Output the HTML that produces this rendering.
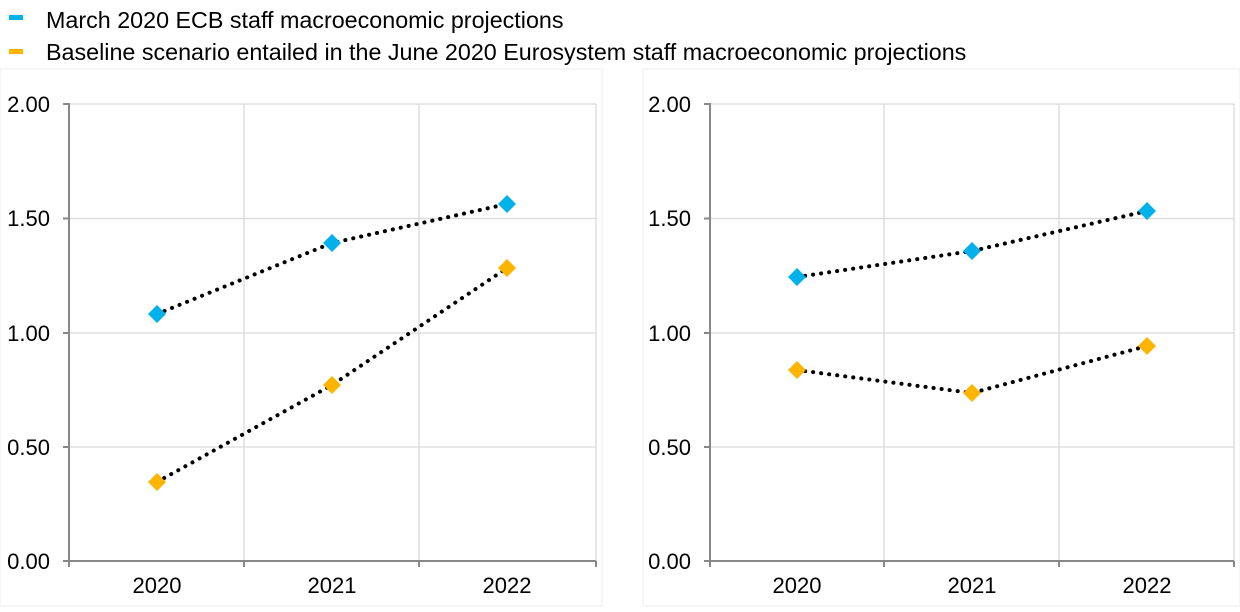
<!DOCTYPE html>
<html><head><meta charset="utf-8"><style>
html,body{margin:0;padding:0;background:#fff;}
svg text{font-family:"Liberation Sans",Arial,sans-serif;fill:#000;}
</style></head><body>
<svg width="1240" height="607" xmlns="http://www.w3.org/2000/svg">
<rect x="0" y="69" width="602" height="537" fill="none" stroke="#eee"/>
<rect x="643" y="69" width="597" height="537" fill="none" stroke="#eee"/>
<rect x="9" y="15" width="14" height="5" fill="#00b1ea"/>
<text x="46" y="28" font-size="23.3">March 2020 ECB staff macroeconomic projections</text>
<rect x="9" y="49" width="14" height="5" fill="#ffb400"/>
<text x="46" y="60" font-size="23.3">Baseline scenario entailed in the June 2020 Eurosystem staff macroeconomic projections</text>

<g>
<g stroke="#d9d9d9" stroke-width="1.3">
<line x1="69" y1="104" x2="596" y2="104"/><line x1="69" y1="218.5" x2="596" y2="218.5"/>
<line x1="69" y1="333" x2="596" y2="333"/><line x1="69" y1="447" x2="596" y2="447"/>
<line x1="244" y1="104" x2="244" y2="561"/><line x1="419" y1="104" x2="419" y2="561"/><line x1="596" y1="104" x2="596" y2="561"/>
</g>
<g stroke="#888" stroke-width="2">
<line x1="69" y1="103" x2="69" y2="567"/><line x1="63" y1="561" x2="596" y2="561"/>
<line x1="63" y1="104" x2="69" y2="104"/><line x1="63" y1="218.5" x2="69" y2="218.5"/><line x1="63" y1="333" x2="69" y2="333"/><line x1="63" y1="447" x2="69" y2="447"/>
<line x1="244" y1="561" x2="244" y2="567"/><line x1="419" y1="561" x2="419" y2="567"/><line x1="596" y1="561" x2="596" y2="567"/>
</g>
<g font-size="22" text-anchor="end">
<text x="50" y="112">2.00</text><text x="50" y="226">1.50</text><text x="50" y="341">1.00</text><text x="50" y="455">0.50</text><text x="50" y="569">0.00</text>
</g>
<g font-size="22" text-anchor="middle"><text x="157" y="593">2020</text><text x="332" y="593">2021</text><text x="507" y="593">2022</text></g>
<g fill="none" stroke="#000" stroke-width="4" stroke-dasharray="0.1 8" stroke-linecap="round">
<polyline points="157,314 332,243 507,204"/><polyline points="157,482 332,385 507,268"/>
</g>
<g fill="#00b1ea"><path d="M157,305l9,9-9,9-9-9z"/><path d="M332,234l9,9-9,9-9-9z"/><path d="M507,195l9,9-9,9-9-9z"/></g>
<g fill="#ffb400"><path d="M157,473l9,9-9,9-9-9z"/><path d="M332,376l9,9-9,9-9-9z"/><path d="M507,259l9,9-9,9-9-9z"/></g>
</g>

<g>
<g stroke="#d9d9d9" stroke-width="1.3">
<line x1="710" y1="104" x2="1234" y2="104"/><line x1="710" y1="218.5" x2="1234" y2="218.5"/>
<line x1="710" y1="333" x2="1234" y2="333"/><line x1="710" y1="447" x2="1234" y2="447"/>
<line x1="884" y1="104" x2="884" y2="561"/><line x1="1059" y1="104" x2="1059" y2="561"/><line x1="1234" y1="104" x2="1234" y2="561"/>
</g>
<g stroke="#888" stroke-width="2">
<line x1="710" y1="103" x2="710" y2="567"/><line x1="704" y1="561" x2="1234" y2="561"/>
<line x1="704" y1="104" x2="710" y2="104"/><line x1="704" y1="218.5" x2="710" y2="218.5"/><line x1="704" y1="333" x2="710" y2="333"/><line x1="704" y1="447" x2="710" y2="447"/>
<line x1="884" y1="561" x2="884" y2="567"/><line x1="1059" y1="561" x2="1059" y2="567"/><line x1="1234" y1="561" x2="1234" y2="567"/>
</g>
<g font-size="22" text-anchor="end">
<text x="691" y="112">2.00</text><text x="691" y="226">1.50</text><text x="691" y="341">1.00</text><text x="691" y="455">0.50</text><text x="691" y="569">0.00</text>
</g>
<g font-size="22" text-anchor="middle"><text x="797" y="593">2020</text><text x="972" y="593">2021</text><text x="1147" y="593">2022</text></g>
<g fill="none" stroke="#000" stroke-width="4" stroke-dasharray="0.1 8" stroke-linecap="round">
<polyline points="797,277 972,251 1147,211"/><polyline points="797,370 972,393 1147,346"/>
</g>
<g fill="#00b1ea"><path d="M797,268l9,9-9,9-9-9z"/><path d="M972,242l9,9-9,9-9-9z"/><path d="M1147,202l9,9-9,9-9-9z"/></g>
<g fill="#ffb400"><path d="M797,361l9,9-9,9-9-9z"/><path d="M972,384l9,9-9,9-9-9z"/><path d="M1147,337l9,9-9,9-9-9z"/></g>
</g>
</svg>
</body></html>
